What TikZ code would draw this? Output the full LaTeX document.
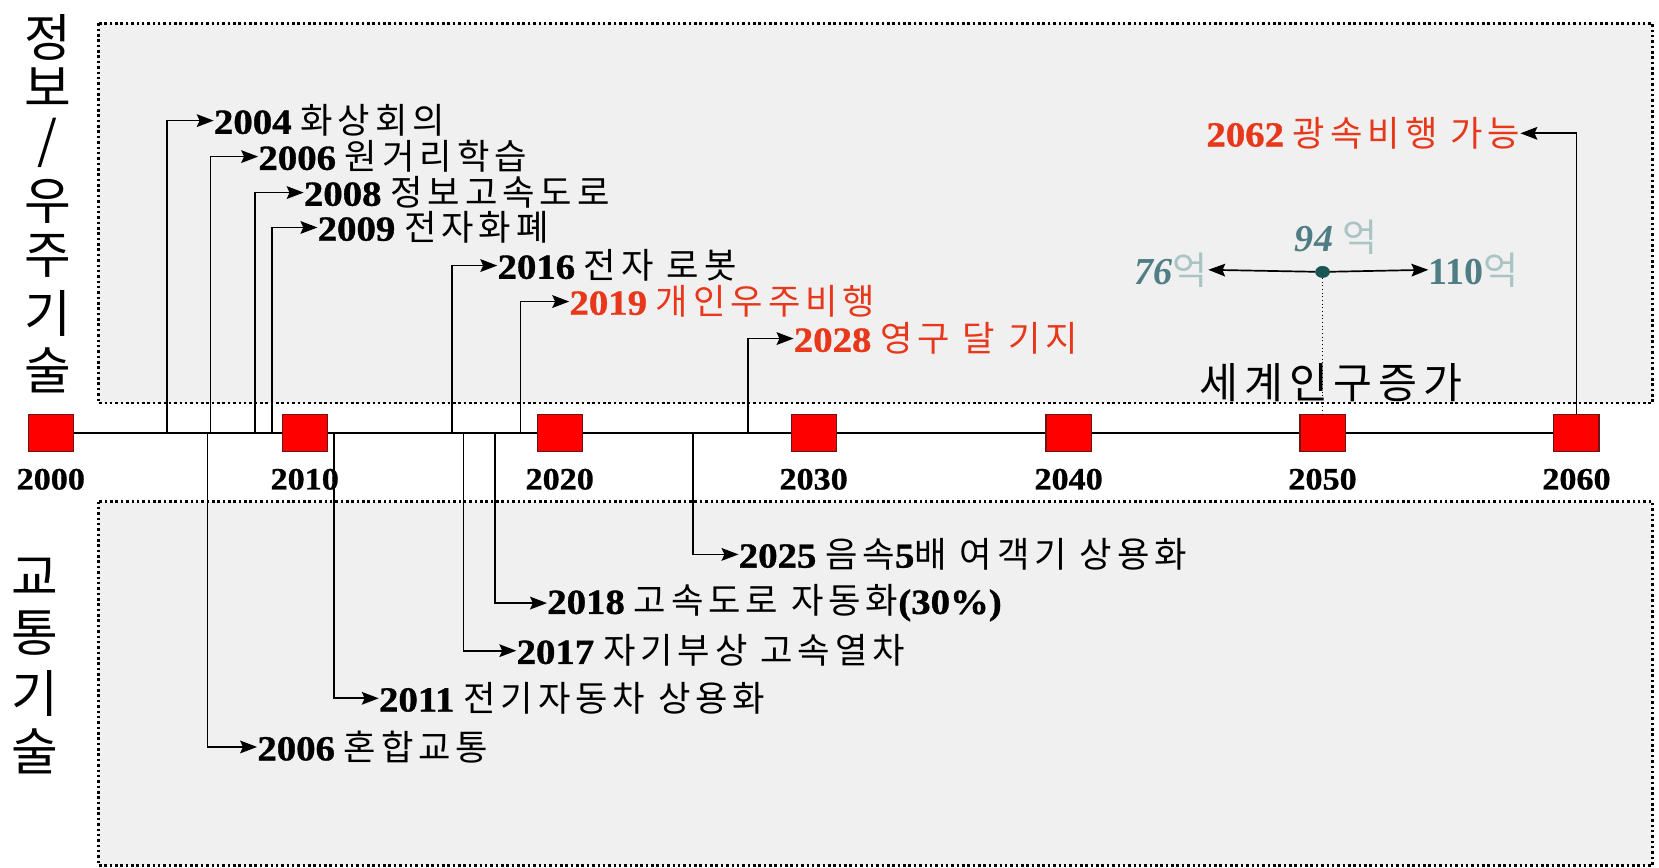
\documentclass[tikz,border=0pt]{standalone}
\usepackage{fontspec}
\setmainfont{Liberation Serif}
\newfontfamily\kr[LetterSpace=14]{Noto Sans CJK KR}
\newfontfamily\krt{Noto Sans CJK KR}
\newfontfamily\yrf[UprightFont=* Bold, FakeStretch=1.1, FakeBold=1]{Liberation Serif}
\newcommand{\Y}[1]{{\yrf #1}}
\usetikzlibrary{arrows.meta,shapes.geometric}
\definecolor{boxgray}{RGB}{240,240,240}
\definecolor{redlab}{RGB}{232,56,28}
\definecolor{sqred}{RGB}{255,0,0}
\definecolor{sqedge}{RGB}{110,20,20}
\definecolor{tealdark}{RGB}{80,125,132}
\definecolor{teallight}{RGB}{170,196,196}
\definecolor{dotteal}{RGB}{25,85,85}
\begin{document}
\begin{tikzpicture}[x=0.75pt,y=-0.75pt,
  panel/.style={draw=black, line width=1.8pt, dash pattern=on 1.8pt off 2pt, fill=boxgray},
  yearsq/.style={draw=sqedge, line width=0.8pt, fill=sqred, minimum width=32pt, minimum height=26pt, inner sep=0pt},
  yearlab/.style={font=\fontsize{22}{22}\selectfont\yrf, inner sep=0pt},
  arr/.style={-{Stealth[length=12pt,width=9pt,inset=2pt]}, line width=1.2pt},
  lab/.style={anchor=west, inner sep=0pt, font=\fontsize{25}{25}\selectfont},
  redlab/.style={lab, text=redlab},
  vtitle/.style={font=\krt\fontsize{36}{36}\selectfont, inner sep=0pt},
  poplab/.style={inner sep=0pt, font=\fontsize{27}{27}\selectfont\bfseries\itshape}
]
\useasboundingbox (0,0) rectangle (1568,820);
\fill[white] (0,0) rectangle (1568,820);
% panels
\draw[panel] (93,22) rectangle (1562,381);
\draw[panel] (93,474) rectangle (1562,818);
% vertical titles
\foreach \c/\yy [count=\i] in {{정}/35,{보}/82,{/}/135,{우}/190,{주}/242,{기}/296,{술}/350}
  \node[vtitle] (vt\i) at (45,\yy) {\c};
\foreach \c/\yy [count=\i] in {{교}/545,{통}/598,{기}/655,{술}/710}
  \node[vtitle] (vb\i) at (33,\yy) {\c};
% timeline coordinates
\coordinate (t2004) at (158,409);
\coordinate (t2006a) at (199,409);
\coordinate (t2008) at (241,409);
\coordinate (t2009) at (257,409);
\coordinate (t2016) at (427,409);
\coordinate (t2019) at (492,409);
\coordinate (t2028) at (707,409);
\coordinate (t2006b) at (196,409);
\coordinate (t2011) at (316,409);
\coordinate (t2017) at (438,409);
\coordinate (t2018) at (468,409);
\coordinate (t2025) at (655,409);
% event labels
\node[lab] (e2004) at (202,114) {\Y{2004} {\kr 화상회의}};
\node[lab] (e2006a) at (244,148) {\Y{2006} {\kr 원거리학습}};
\node[lab] (e2008) at (287,182) {\Y{2008} {\kr 정보고속도로}};
\node[lab] (e2009) at (300,215) {\Y{2009} {\kr 전자화폐}};
\node[lab] (e2016) at (470,251) {\Y{2016} {\kr 전자 로봇}};
\node[redlab] (e2019) at (538,285) {\Y{2019} {\kr 개인우주비행}};
\node[redlab] (e2028) at (750,320) {\Y{2028} {\kr 영구 달 기지}};
\node[redlab, anchor=east] (e2062) at (1437,126) {\Y{2062} {\kr 광속비행 가능}};
\node[lab] (e2025) at (698,524) {\Y{2025} {\kr 음속}\Y{5}{\kr 배 여객기 상용화}};
\node[lab] (e2018) at (517,570) {\Y{2018} {\kr 고속도로 자동화}\Y{(30\%)}};
\node[lab] (e2017) at (488,615) {\Y{2017} {\kr 자기부상 고속열차}};
\node[lab] (e2011) at (358,660) {\Y{2011} {\kr 전기자동차 상용화}};
\node[lab] (e2006b) at (243,706) {\Y{2006} {\kr 혼합교통}};
% connectors
\foreach \e in {2004,2006a,2008,2009,2016,2019,2028,2025,2018,2017,2011,2006b}
  \draw[arr] (t\e) |- (e\e.west);
% timeline squares
\foreach \yr/\xx in {2000/48,2010/288,2020/529,2030/769,2040/1010,2050/1250,2060/1490}
  \coordinate (c\yr) at (\xx,409);
\draw[line width=1.4pt] (c2000) -- (c2060);
\draw[arr] (c2060) |- (e2062.east);
% population
\node[draw=dotteal, fill=dotteal, ellipse, minimum width=10pt, minimum height=8pt, inner sep=0pt] (dot) at (1250,257) {};
\node[poplab, anchor=east] (p76) at (1142,255) {\textcolor{tealdark}{76}\textcolor{teallight}{\krt\mdseries\upshape 억}};
\node[poplab, anchor=west] (p110) at (1350,255) {\textcolor{tealdark}{\upshape 110}\textcolor{teallight}{\krt\mdseries\upshape 억}};
\node[poplab] (p94) at (1263,224) {\textcolor{tealdark}{94} \textcolor{teallight}{\krt\mdseries\upshape 억}};
\draw[arr] (dot) -- (p76.east);
\draw[arr] (dot) -- (p110.west);
\node[font=\fontsize{30}{30}\selectfont\kr, inner sep=0pt] (pgrow) at (1258,362) {세계인구증가};
\foreach \yr/\xx in {2000/48,2010/288,2020/529,2030/769,2040/1010,2050/1250,2060/1490}{
  \node[yearsq] (s\yr) at (c\yr) {};
  \node[yearlab] (y\yr) at (\xx,453) {\yr};
}
\draw[line width=0.6pt, dotted] (dot) -- (s2050.north);
\draw[line width=1.1pt] (c2060) -- (s2060.center);
\end{tikzpicture}
\end{document}
